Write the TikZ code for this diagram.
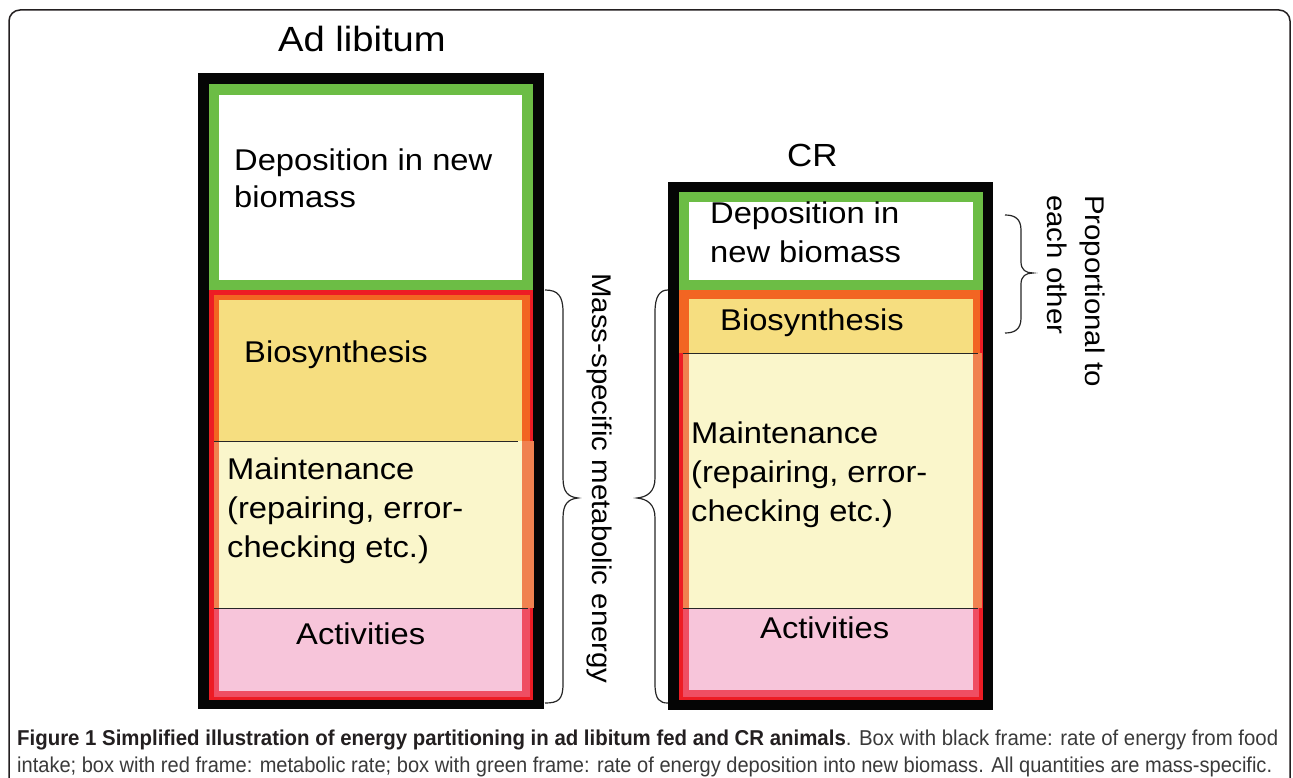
\documentclass[tikz,border=0pt]{standalone}
\usepackage{fontspec}
\setmainfont{Liberation Sans}[FakeStretch=1.09]
\newfontfamily\capfont{Liberation Sans}
\usepackage{graphicx}
\definecolor{frameblack}{HTML}{050505}
\definecolor{gframe}{HTML}{6CBD45}
\definecolor{rframe}{HTML}{ED1C24}
\definecolor{oframe}{HTML}{F26522}
\definecolor{biosyn}{HTML}{F6DE80}
\definecolor{maint}{HTML}{FAF6CB}
\definecolor{salmon}{HTML}{F08250}
\definecolor{activ}{HTML}{F7C5DA}
\definecolor{pinkred}{HTML}{EF4E63}
\definecolor{capdark}{HTML}{231F20}
\definecolor{capgray}{HTML}{3A3A3A}
\tikzset{
  lbl/.style={anchor=base west, inner sep=0pt, font=\fontsize{30}{36}\selectfont},
  ttl/.style={anchor=base west, inner sep=0pt},
  sepline/.style={draw=black!85, line width=1pt},
  bracepath/.style={draw=black!85, line width=1.2pt},
  rotlbl/.style={anchor=base west, inner sep=0pt, rotate=-90, font=\fontsize{27}{33}\selectfont},
  capline/.style={anchor=base west, inner sep=0pt},
}
\begin{document}
\begin{tikzpicture}[x=1pt,y=-1pt]
\useasboundingbox (0,0) rectangle (1293,778);
% outer figure frame
\draw[capdark, line width=1.5pt, rounded corners=11pt] (9,790) -- (9,10) -- (1290,10) -- (1290,790);

% ---------------- Ad libitum box ----------------
\fill[frameblack] (198,73) rectangle (544,709);
\fill[gframe] (209,84) rectangle (533,290);
\fill[white] (219,95) rectangle (522,280);
\fill[rframe] (209,290) rectangle (533,700);
\fill[oframe] (214,295) rectangle (530,441);
\fill[biosyn] (219,300) rectangle (522,441);
\fill[salmon] (214,441) rectangle (534,608);
\fill[maint] (219,441) rectangle (522,608);
\fill[pinkred] (214,608) rectangle (530,697);
\fill[activ] (219,608) rectangle (522,691);
\draw[sepline] (214,441) -- (518,441);
\draw[sepline] (214,608) -- (528,608);

\node[ttl, font=\fontsize{35}{40}\selectfont] (tadlib) at (278,52) {Ad libitum};
\node[lbl] (ldep1) at (234,171) {Deposition in new};
\node[lbl] (ldep2) at (234,208) {biomass};
\node[lbl] (lbio) at (244,362) {Biosynthesis};
\node[lbl] (lmai1) at (227,479) {Maintenance};
\node[lbl] (lmai2) at (227,518) {(repairing, error-};
\node[lbl] (lmai3) at (227,557) {checking etc.)};
\node[lbl] (lact) at (296,644) {Activities};

% ---------------- CR box ----------------
\fill[frameblack] (668,182) rectangle (993,710);
\fill[gframe] (679,192) rectangle (983,290);
\fill[white] (689,202) rectangle (973,280);
\fill[rframe] (679,290) rectangle (983,700);
\fill[oframe] (679,290) rectangle (980,353);
\fill[biosyn] (689,299) rectangle (973,353);
\fill[salmon] (683,353) rectangle (982,608);
\fill[maint] (689,353) rectangle (973,608);
\fill[pinkred] (683,608) rectangle (979,697);
\fill[activ] (689,608) rectangle (973,690);
\draw[sepline] (683,353) -- (978,353);
\draw[sepline] (683,608) -- (978,608);

\node[ttl, font=\fontsize{32}{38}\selectfont] (tcr) at (787,167) {CR};
\node[lbl] (rdep1) at (710,223) {Deposition in};
\node[lbl] (rdep2) at (710,262) {new biomass};
\node[lbl] (rbio) at (720,330) {Biosynthesis};
\node[lbl] (rmai1) at (691,443) {Maintenance};
\node[lbl] (rmai2) at (691,482) {(repairing, error-};
\node[lbl] (rmai3) at (691,521) {checking etc.)};
\node[lbl] (ract) at (760,638) {Activities};

% ---------------- braces ----------------
\draw[bracepath] (545,290) .. controls (558,290) and (563,296) .. (563,312) -- (563,478)
  .. controls (563,492) and (568,497) .. (578,498)
  .. controls (568,499) and (563,504) .. (563,518) -- (563,684)
  .. controls (563,700) and (558,703) .. (545,703);
\draw[bracepath] (668,290) .. controls (660,290) and (655,296) .. (655,312) -- (655,478)
  .. controls (655,492) and (647,497) .. (637,498)
  .. controls (647,499) and (655,504) .. (655,518) -- (655,684)
  .. controls (655,700) and (660,703) .. (668,703);
\draw[bracepath] (1005,215) .. controls (1015,215) and (1021,219) .. (1021,230) -- (1021,262)
  .. controls (1021,270) and (1026,273) .. (1033,273)
  .. controls (1026,273) and (1021,276) .. (1021,284) -- (1021,318)
  .. controls (1021,329) and (1015,333) .. (1005,333);

\node[rotlbl] (mse) at (592,273) {Mass-specific metabolic energy};
\node[rotlbl] (prop1) at (1085,195) {Proportional to};
\node[rotlbl] (prop2) at (1047,195) {each other};

% ---------------- caption ----------------
\node[capline] (cap1) at (17,745) {\resizebox{1261pt}{\height}{\capfont\fontsize{21.5}{24}\selectfont\textcolor{capdark}{\textbf{Figure 1 Simplified illustration of energy partitioning in ad libitum fed and CR animals}}\textcolor{capgray}{. Box with black frame: rate of energy from food}}};
\node[capline] (cap2) at (17,772) {\resizebox{1255pt}{\height}{\capfont\fontsize{21.5}{24}\selectfont\textcolor{capgray}{intake; box with red frame: metabolic rate; box with green frame: rate of energy deposition into new biomass. All quantities are mass-specific.}}};
\end{tikzpicture}
\end{document}
